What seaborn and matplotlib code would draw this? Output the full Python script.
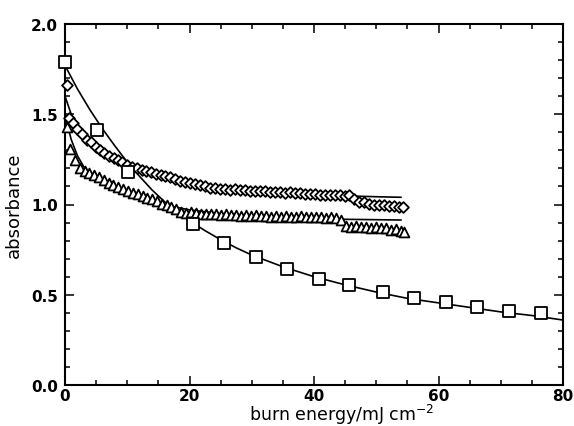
import numpy as np
import pandas as pd
import matplotlib
matplotlib.use("Agg")
import matplotlib.pyplot as plt
import seaborn as sns
from matplotlib.ticker import MultipleLocator

# ---- data ----
sq_x = [0.0, 5.2, 10.2, 20.5, 25.6, 30.7, 35.7, 40.8, 45.7, 51.1, 56.0, 61.2, 66.2, 71.4, 76.5]
sq_y = [1.79, 1.41, 1.18, 0.893, 0.785, 0.71, 0.645, 0.59, 0.554, 0.513, 0.482, 0.458, 0.43, 0.41, 0.397]

sq_fit_x = [0, 2, 4, 6, 8, 10, 12, 14, 16, 18, 20, 22.5, 25, 27.5, 30, 35, 40, 45, 50, 55, 60, 65, 70, 75, 80]
sq_fit_y = [1.77, 1.64, 1.525, 1.42, 1.325, 1.235, 1.155, 1.08, 1.015, 0.96, 0.91, 0.855, 0.805, 0.76, 0.72,
            0.655, 0.60, 0.555, 0.515, 0.48, 0.455, 0.43, 0.405, 0.385, 0.36]

dia_x = [0.3, 0.6, 1.3, 2.0, 2.7, 3.5, 4.2, 4.9, 5.6, 6.3, 7.0, 7.8, 8.5, 9.2, 10.0, 10.8, 11.5, 12.3, 13.0,
         13.8, 14.6, 15.4, 16.1, 16.9, 17.7, 18.5, 19.3, 20.1, 20.9, 21.7, 22.5, 23.3, 24.1, 24.9, 25.7,
         26.5, 27.3, 28.1, 28.9, 29.7, 30.5, 31.3, 32.1, 32.9, 33.7, 34.5, 35.3, 36.1, 36.9, 37.7, 38.5,
         39.3, 40.1, 40.9, 41.7, 42.5, 43.3, 44.1, 44.9, 45.7, 46.5, 47.3, 48.1, 48.9, 49.7, 50.5, 51.3,
         52.1, 52.9, 53.7, 54.3]
dia_y = [1.66, 1.48, 1.45, 1.42, 1.39, 1.36, 1.345, 1.32, 1.30, 1.285, 1.27, 1.255, 1.245, 1.235, 1.22,
         1.21, 1.20, 1.19, 1.185, 1.178, 1.17, 1.165, 1.16, 1.15, 1.14, 1.132, 1.125, 1.12, 1.115, 1.108,
         1.10, 1.094, 1.09, 1.088, 1.085, 1.083, 1.085, 1.08, 1.078, 1.077, 1.075, 1.073, 1.075, 1.07,
         1.068, 1.068, 1.065, 1.067, 1.062, 1.065, 1.06, 1.058, 1.06, 1.055, 1.053, 1.055, 1.05, 1.052,
         1.048, 1.05, 1.03, 1.015, 1.012, 1.005, 1.0, 1.0, 0.995, 0.99, 0.99, 0.985, 0.985]

dia_fit_x = [0, 1, 2, 3, 4, 5, 6, 8, 10, 12, 15, 20, 25, 30, 35, 40, 45, 50, 54]
dia_fit_y = [1.60, 1.50, 1.44, 1.395, 1.355, 1.32, 1.29, 1.25, 1.215, 1.19, 1.16, 1.12, 1.095, 1.075,
             1.063, 1.055, 1.048, 1.043, 1.04]

tri_x = [0.3, 0.8, 1.6, 2.4, 3.2, 3.9, 4.6, 5.4, 6.2, 7.0, 7.7, 8.5, 9.3, 10.1, 10.9, 11.7, 12.5, 13.2,
         14.0, 14.8, 15.6, 16.4, 17.1, 17.9, 18.7, 19.5, 20.3, 21.1, 21.9, 22.7, 23.5, 24.3, 25.1, 25.9,
         26.7, 27.5, 28.3, 29.1, 29.9, 30.7, 31.5, 32.3, 33.1, 33.9, 34.7, 35.5, 36.3, 37.1, 37.9, 38.7,
         39.5, 40.3, 41.1, 41.9, 42.7, 43.5, 44.3, 45.1, 45.9, 46.7, 47.5, 48.3, 49.1, 49.9, 50.7, 51.5,
         52.3, 53.1, 53.9, 54.4]
tri_y = [1.43, 1.31, 1.245, 1.20, 1.185, 1.175, 1.165, 1.15, 1.135, 1.12, 1.108, 1.095, 1.085, 1.075,
         1.065, 1.058, 1.045, 1.038, 1.03, 1.02, 1.005, 0.995, 0.985, 0.975, 0.96, 0.952, 0.958, 0.955,
         0.95, 0.95, 0.945, 0.948, 0.943, 0.945, 0.94, 0.944, 0.938, 0.94, 0.936, 0.94, 0.935, 0.937,
         0.932, 0.935, 0.93, 0.938, 0.932, 0.93, 0.935, 0.928, 0.93, 0.928, 0.93, 0.925, 0.928, 0.925,
         0.915, 0.88, 0.875, 0.88, 0.875, 0.878, 0.872, 0.875, 0.87, 0.868, 0.86, 0.865, 0.855, 0.85]

tri_fit_x = [0, 1, 2, 3, 4, 5, 6, 8, 10, 12, 15, 20, 25, 30, 35, 40, 45, 54]
tri_fit_y = [1.49, 1.36, 1.27, 1.21, 1.17, 1.145, 1.125, 1.09, 1.06, 1.035, 1.005, 0.97, 0.95, 0.937,
             0.928, 0.922, 0.918, 0.914]

x_ticks = [0, 20, 40, 60, 80]
y_ticks = [0.0, 0.5, 1.0, 1.5, 2.0]
x_label = "burn energy/mJ cm$^{-2}$"
y_label = "absorbance"

# ---- plotting ----
sns.set_style("ticks")
plt.rcParams['font.family'] = ['DejaVu Sans']
plt.rcParams['mathtext.fontset'] = 'dejavusans'
plt.rcParams['text.color'] = 'black'
plt.rcParams['axes.labelcolor'] = 'black'
plt.rcParams['xtick.color'] = 'black'
plt.rcParams['ytick.color'] = 'black'

fig = plt.figure(figsize=(5.74, 4.27), dpi=100)
ax = fig.add_axes([65 / 574, 1 - 386 / 427, 498 / 574, 361 / 427])

lw = 1.2
for fx, fy in [(sq_fit_x, sq_fit_y), (dia_fit_x, dia_fit_y), (tri_fit_x, tri_fit_y)]:
    sns.lineplot(x=fx, y=fy, color="black", linewidth=lw, sort=False, estimator=None, ax=ax, zorder=2)

sns.scatterplot(x=dia_x, y=dia_y, marker="D", s=30, facecolor="white", edgecolor="black",
                linewidth=1.3, ax=ax, zorder=3, clip_on=False)
sns.scatterplot(x=tri_x, y=tri_y, marker="^", s=50, facecolor="white", edgecolor="black",
                linewidth=1.3, ax=ax, zorder=3, clip_on=False)
sns.scatterplot(x=sq_x, y=sq_y, marker="s", s=68, facecolor="white", edgecolor="black",
                linewidth=1.3, ax=ax, zorder=4, clip_on=False)

ax.set_xlim(0, 80)
ax.set_ylim(0, 2.0)
ax.set_xticks(x_ticks)
ax.set_yticks(y_ticks)
ax.set_yticklabels([f"{v:.1f}" for v in y_ticks])
ax.xaxis.set_minor_locator(MultipleLocator(5))
ax.yaxis.set_minor_locator(MultipleLocator(0.1))
ax.tick_params(which="both", direction="in", top=True, right=True, color="black", width=1.1)
ax.tick_params(which="major", length=6.5, labelsize=11)
ax.tick_params(axis="x", which="major", pad=2)
ax.tick_params(axis="y", which="major", pad=5)
ax.tick_params(which="minor", length=3.5)
for lab in ax.get_xticklabels() + ax.get_yticklabels():
    lab.set_fontweight("bold")
    lab.set_color("black")
for sp in ax.spines.values():
    sp.set_linewidth(1.5)
    sp.set_color("black")

ax.set_xlabel(x_label, fontsize=12.5, color="black")
ax.xaxis.set_label_coords(0.556, -0.047, transform=ax.transAxes)
ax.xaxis.label.set_va("top")
ax.set_ylabel(y_label, fontsize=13, labelpad=6, color="black")

fig.savefig("out.png", dpi=100)
